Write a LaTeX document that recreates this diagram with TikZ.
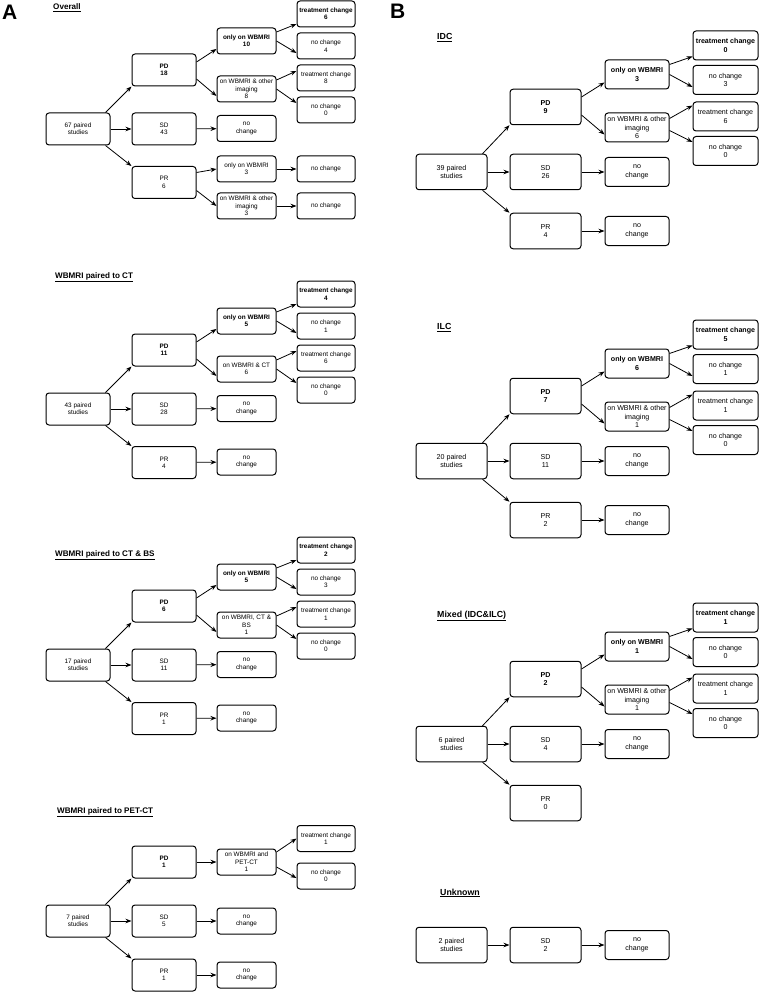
\documentclass[tikz,border=0pt]{standalone}
\usepackage{fontspec}
\setmainfont{Liberation Sans}
\usetikzlibrary{arrows.meta}
\newcommand{\fsa}{\fontsize{6.4}{7.4}\selectfont}
\newcommand{\fsb}{\fontsize{7.1}{8.4}\selectfont}

\begin{document}
\begin{tikzpicture}[x=1pt, y=-1pt,
    cell/.style={draw, rounded corners=3pt, align=center, inner sep=0pt, line width=1pt},
    abig/.style={cell, minimum width=64pt, minimum height=32pt, font=\fsa},
    amid/.style={cell, minimum width=59pt, minimum height=26pt, font=\fsa},
    asml/.style={cell, minimum width=58pt, minimum height=26pt, font=\fsa},
    bbig/.style={cell, minimum width=71pt, minimum height=35.5pt, font=\fsb},
    bmid/.style={cell, minimum width=64pt, minimum height=29pt, font=\fsb},
    bsml/.style={cell, minimum width=65pt, minimum height=29pt, font=\fsb},
    abf/.style={font=\fsa\bfseries},
    bbf/.style={font=\fsb\bfseries},
    ttla/.style={anchor=base west, inner sep=0pt, font=\fontsize{8.1}{9}\selectfont\bfseries},
    ttlb/.style={anchor=base west, inner sep=0pt, font=\fontsize{8.8}{10}\selectfont\bfseries},
    panel/.style={anchor=base west, inner sep=0pt, font=\fontsize{21}{21}\selectfont\bfseries},
    arr/.style={-{Stealth[length=6pt, width=4.5pt]}, line width=0.8pt}]
    \useasboundingbox (0,0) rectangle (759,992);

    % A: Overall
    \node[panel] (pa) at (2,20) {A};
    \node[ttla] (t1) at (53,10) {\underline{Overall}};
    \node[abig] (a1r) at (78,129) {67 paired\\studies};
    \node[abig, abf] (a1pd) at (164,70) {PD\\18};
    \node[abig] (a1sd) at (164,129) {SD\\43};
    \node[abig] (a1pr) at (164,182.5) {PR\\6};
    \node[amid, abf] (a1o) at (246.5,41) {only on WBMRI\\10};
    \node[amid] (a1x) at (246.5,89) {on WBMRI \& other\\imaging\\8};
    \node[amid] (a1sdn) at (246.5,128.5) {no\\change};
    \node[amid] (a1pro) at (246.5,169) {only on WBMRI\\3};
    \node[amid] (a1prx) at (246.5,206) {on WBMRI \& other\\imaging\\3};
    \node[asml, abf] (a1tc) at (326,14) {treatment change\\6};
    \node[asml] (a1nc) at (326,46) {no change\\4};
    \node[asml] (a1tc2) at (326,78) {treatment change\\8};
    \node[asml] (a1nc2) at (326,110) {no change\\0};
    \node[asml] (a1prn1) at (326,169) {no change};
    \node[asml] (a1prn2) at (326,206) {no change};

    \draw[arr] ([xshift=-5pt]a1r.north east) -- (a1pd.south west);
    \draw[arr] (a1r) -- (a1sd);
    \draw[arr] ([xshift=-5pt]a1r.south east) -- (a1pr.north west);
    \draw[arr] ([yshift=8pt]a1pd.east) -- ([yshift=-8pt]a1o.west);
    \draw[arr] ([yshift=-9pt]a1pd.east) -- ([yshift=-7pt]a1x.west);
    \draw[arr] (a1sd) -- (a1sdn);
    \draw[arr] ([yshift=10pt]a1pr.east) -- (a1pro.west);
    \draw[arr] ([yshift=-8pt]a1pr.east) -- (a1prx.west);
    \draw[arr] ([yshift=9pt]a1o.east) -- ([yshift=-10pt]a1tc.west);
    \draw[arr] (a1o.east) -- ([yshift=-7pt]a1nc.west);
    \draw[arr] ([yshift=9pt]a1x.east) -- ([yshift=7pt]a1tc2.west);
    \draw[arr] (a1x.east) -- ([yshift=7pt]a1nc2.west);
    \draw[arr] (a1pro) -- (a1prn1);
    \draw[arr] (a1prx) -- (a1prn2);

    % A: WBMRI paired to CT
    \node[ttla] (t2) at (55,278.5) {\underline{WBMRI paired to CT}};
    \node[abig] (a2r) at (78,409) {43 paired\\studies};
    \node[abig, abf] (a2pd) at (164,350) {PD\\11};
    \node[abig] (a2sd) at (164,409) {SD\\28};
    \node[abig] (a2pr) at (164,462.5) {PR\\4};
    \node[amid, abf] (a2o) at (246.5,321) {only on WBMRI\\5};
    \node[amid] (a2x) at (246.5,369) {on WBMRI \& CT\\6};
    \node[amid] (a2sdn) at (246.5,408.5) {no\\change};
    \node[amid] (a2prn) at (246.5,462) {no\\change};
    \node[asml, abf] (a2tc) at (326,294) {treatment change\\4};
    \node[asml] (a2nc) at (326,326) {no change\\1};
    \node[asml] (a2tc2) at (326,358) {treatment change\\6};
    \node[asml] (a2nc2) at (326,390) {no change\\0};

    \draw[arr] ([xshift=-5pt]a2r.north east) -- (a2pd.south west);
    \draw[arr] (a2r) -- (a2sd);
    \draw[arr] ([xshift=-5pt]a2r.south east) -- (a2pr.north west);
    \draw[arr] ([yshift=8pt]a2pd.east) -- ([yshift=-8pt]a2o.west);
    \draw[arr] ([yshift=-9pt]a2pd.east) -- ([yshift=-7pt]a2x.west);
    \draw[arr] (a2sd) -- (a2sdn);
    \draw[arr] (a2pr) -- (a2prn);
    \draw[arr] ([yshift=9pt]a2o.east) -- ([yshift=-10pt]a2tc.west);
    \draw[arr] (a2o.east) -- ([yshift=-7pt]a2nc.west);
    \draw[arr] ([yshift=9pt]a2x.east) -- ([yshift=7pt]a2tc2.west);
    \draw[arr] (a2x.east) -- ([yshift=7pt]a2nc2.west);

    % A: WBMRI paired to CT & BS
    \node[ttla] (t3) at (55,556) {\underline{WBMRI paired to CT \& BS}};
    \node[abig] (a3r) at (78,665) {17 paired\\studies};
    \node[abig, abf] (a3pd) at (164,606) {PD\\6};
    \node[abig] (a3sd) at (164,665) {SD\\11};
    \node[abig] (a3pr) at (164,718.5) {PR\\1};
    \node[amid, abf] (a3o) at (246.5,577) {only on WBMRI\\5};
    \node[amid] (a3x) at (246.5,625) {on WBMRI, CT \&\\BS\\1};
    \node[amid] (a3sdn) at (246.5,664.5) {no\\change};
    \node[amid] (a3prn) at (246.5,718) {no\\change};
    \node[asml, abf] (a3tc) at (326,550) {treatment change\\2};
    \node[asml] (a3nc) at (326,582) {no change\\3};
    \node[asml] (a3tc2) at (326,614) {treatment change\\1};
    \node[asml] (a3nc2) at (326,646) {no change\\0};

    \draw[arr] ([xshift=-5pt]a3r.north east) -- (a3pd.south west);
    \draw[arr] (a3r) -- (a3sd);
    \draw[arr] ([xshift=-5pt]a3r.south east) -- (a3pr.north west);
    \draw[arr] ([yshift=8pt]a3pd.east) -- ([yshift=-8pt]a3o.west);
    \draw[arr] ([yshift=-9pt]a3pd.east) -- ([yshift=-7pt]a3x.west);
    \draw[arr] (a3sd) -- (a3sdn);
    \draw[arr] (a3pr) -- (a3prn);
    \draw[arr] ([yshift=9pt]a3o.east) -- ([yshift=-10pt]a3tc.west);
    \draw[arr] (a3o.east) -- ([yshift=-7pt]a3nc.west);
    \draw[arr] ([yshift=9pt]a3x.east) -- ([yshift=7pt]a3tc2.west);
    \draw[arr] (a3x.east) -- ([yshift=7pt]a3nc2.west);

    % A: WBMRI paired to PET-CT
    \node[ttla] (t4) at (57,813) {\underline{WBMRI paired to PET-CT}};
    \node[abig] (a4r) at (78,921) {7 paired\\studies};
    \node[abig, abf] (a4pd) at (164,862) {PD\\1};
    \node[abig] (a4sd) at (164,921) {SD\\5};
    \node[abig] (a4pr) at (164,975) {PR\\1};
    \node[amid] (a4x) at (246.5,862) {on WBMRI and\\PET-CT\\1};
    \node[amid] (a4sdn) at (246.5,921) {no\\change};
    \node[amid] (a4prn) at (246.5,975) {no\\change};
    \node[asml] (a4tc) at (326,838.5) {treatment change\\1};
    \node[asml] (a4nc) at (326,876) {no change\\0};

    \draw[arr] ([xshift=-5pt]a4r.north east) -- (a4pd.south west);
    \draw[arr] (a4r) -- (a4sd);
    \draw[arr] ([xshift=-5pt]a4r.south east) -- (a4pr.north west);
    \draw[arr] (a4pd) -- (a4x);
    \draw[arr] (a4sd) -- (a4sdn);
    \draw[arr] (a4pr) -- (a4prn);
    \draw[arr] ([yshift=10pt]a4x.east) -- (a4tc.west);
    \draw[arr] ([yshift=-5pt]a4x.east) -- ([yshift=-2pt]a4nc.west);

    % B: IDC
    \node[panel] (pb) at (390,19) {B};
    \node[ttlb] (t5) at (437,39.5) {\underline{IDC}};
    \node[bbig] (b1r) at (451.5,172) {39 paired\\studies};
    \node[bbig, bbf] (b1pd) at (545.5,107) {PD\\9};
    \node[bbig] (b1sd) at (545.5,172) {SD\\26};
    \node[bbig] (b1pr) at (545.5,231) {PR\\4};
    \node[bmid, bbf] (b1o) at (637,74.5) {only on WBMRI\\3};
    \node[bmid] (b1x) at (637,127.5) {on WBMRI \& other\\imaging\\6};
    \node[bmid] (b1sdn) at (637,172) {no\\change};
    \node[bmid] (b1prn) at (637,231) {no\\change};
    \node[bsml, bbf] (b1tc) at (725.5,45.5) {treatment change\\0};
    \node[bsml] (b1nc) at (725.5,80) {no change\\3};
    \node[bsml] (b1tc2) at (725.5,116.5) {treatment change\\6};
    \node[bsml] (b1nc2) at (725.5,151) {no change\\0};

    \draw[arr] ([xshift=-5pt]b1r.north east) -- (b1pd.south west);
    \draw[arr] (b1r) -- (b1sd);
    \draw[arr] ([xshift=-5pt]b1r.south east) -- (b1pr.north west);
    \draw[arr] ([yshift=10pt]b1pd.east) -- ([yshift=-8pt]b1o.west);
    \draw[arr] ([yshift=-8pt]b1pd.east) -- ([yshift=-7pt]b1x.west);
    \draw[arr] (b1sd) -- (b1sdn);
    \draw[arr] (b1pr) -- (b1prn);
    \draw[arr] ([yshift=10pt]b1o.east) -- ([yshift=-11pt]b1tc.west);
    \draw[arr] (b1o.east) -- ([yshift=-7pt]b1nc.west);
    \draw[arr] ([yshift=9pt]b1x.east) -- ([yshift=11pt]b1tc2.west);
    \draw[arr] ([yshift=-3pt]b1x.east) -- ([yshift=9pt]b1nc2.west);

    % B: ILC
    \node[ttlb] (t6) at (437,329.5) {\underline{ILC}};
    \node[bbig] (b2r) at (451.5,461) {20 paired\\studies};
    \node[bbig, bbf] (b2pd) at (545.5,396) {PD\\7};
    \node[bbig] (b2sd) at (545.5,461) {SD\\11};
    \node[bbig] (b2pr) at (545.5,520) {PR\\2};
    \node[bmid, bbf] (b2o) at (637,363.5) {only on WBMRI\\6};
    \node[bmid] (b2x) at (637,416.5) {on WBMRI \& other\\imaging\\1};
    \node[bmid] (b2sdn) at (637,461) {no\\change};
    \node[bmid] (b2prn) at (637,520) {no\\change};
    \node[bsml, bbf] (b2tc) at (725.5,334.5) {treatment change\\5};
    \node[bsml] (b2nc) at (725.5,369) {no change\\1};
    \node[bsml] (b2tc2) at (725.5,405.5) {treatment change\\1};
    \node[bsml] (b2nc2) at (725.5,440) {no change\\0};

    \draw[arr] ([xshift=-5pt]b2r.north east) -- (b2pd.south west);
    \draw[arr] (b2r) -- (b2sd);
    \draw[arr] ([xshift=-5pt]b2r.south east) -- (b2pr.north west);
    \draw[arr] ([yshift=10pt]b2pd.east) -- ([yshift=-8pt]b2o.west);
    \draw[arr] ([yshift=-8pt]b2pd.east) -- ([yshift=-7pt]b2x.west);
    \draw[arr] (b2sd) -- (b2sdn);
    \draw[arr] (b2pr) -- (b2prn);
    \draw[arr] ([yshift=10pt]b2o.east) -- ([yshift=-11pt]b2tc.west);
    \draw[arr] (b2o.east) -- ([yshift=-7pt]b2nc.west);
    \draw[arr] ([yshift=9pt]b2x.east) -- ([yshift=11pt]b2tc2.west);
    \draw[arr] ([yshift=-3pt]b2x.east) -- ([yshift=9pt]b2nc2.west);

    % B: Mixed
    \node[ttlb] (t7) at (437,617) {\underline{Mixed (IDC\&ILC)}};
    \node[bbig] (b3r) at (451.5,744) {6 paired\\studies};
    \node[bbig, bbf] (b3pd) at (545.5,679) {PD\\2};
    \node[bbig] (b3sd) at (545.5,744) {SD\\4};
    \node[bbig] (b3pr) at (545.5,803) {PR\\0};
    \node[bmid, bbf] (b3o) at (637,646.5) {only on WBMRI\\1};
    \node[bmid] (b3x) at (637,699.5) {on WBMRI \& other\\imaging\\1};
    \node[bmid] (b3sdn) at (637,744) {no\\change};
    \node[bsml, bbf] (b3tc) at (725.5,617.5) {treatment change\\1};
    \node[bsml] (b3nc) at (725.5,652) {no change\\0};
    \node[bsml] (b3tc2) at (725.5,688.5) {treatment change\\1};
    \node[bsml] (b3nc2) at (725.5,723) {no change\\0};

    \draw[arr] ([xshift=-5pt]b3r.north east) -- (b3pd.south west);
    \draw[arr] (b3r) -- (b3sd);
    \draw[arr] ([xshift=-5pt]b3r.south east) -- (b3pr.north west);
    \draw[arr] ([yshift=10pt]b3pd.east) -- ([yshift=-8pt]b3o.west);
    \draw[arr] ([yshift=-8pt]b3pd.east) -- ([yshift=-7pt]b3x.west);
    \draw[arr] (b3sd) -- (b3sdn);
    \draw[arr] ([yshift=10pt]b3o.east) -- ([yshift=-11pt]b3tc.west);
    \draw[arr] (b3o.east) -- ([yshift=-7pt]b3nc.west);
    \draw[arr] ([yshift=9pt]b3x.east) -- ([yshift=11pt]b3tc2.west);
    \draw[arr] ([yshift=-3pt]b3x.east) -- ([yshift=9pt]b3nc2.west);

    % B: Unknown
    \node[ttlb] (t8) at (440,895) {\underline{Unknown}};
    \node[bbig] (b4r) at (451.5,945) {2 paired\\studies};
    \node[bbig] (b4sd) at (545.5,945) {SD\\2};
    \node[bmid] (b4sdn) at (637,945) {no\\change};

    \draw[arr] (b4r) -- (b4sd);
    \draw[arr] (b4sd) -- (b4sdn);
\end{tikzpicture}
\end{document}
